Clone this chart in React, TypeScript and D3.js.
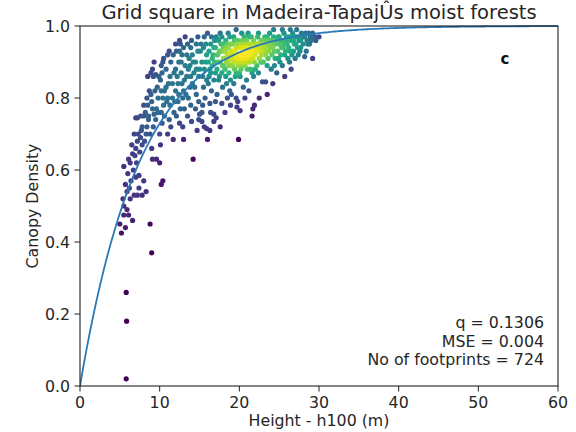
import React from "react";
import * as d3 from "d3";

// Footprint measurements: [height h100 (m), canopy density]
const lowOutliers: [number, number][] = [
  [5.8, 0.02], [5.85, 0.18], [5.8, 0.26], [9.0, 0.37], [8.8, 0.45],
];

const stemPoints: [number, number][] = [
  [5.2, 0.425], [5.7, 0.44], [5.0, 0.45], [6.6, 0.46], [5.5, 0.475], [6.1, 0.475],
  [5.5, 0.5], [5.9, 0.49], [6.8, 0.53], [7.2, 0.53], [7.8, 0.53], [8.3, 0.54],
  [5.7, 0.56], [7.4, 0.55], [8.0, 0.57], [6.2, 0.55], [10.2, 0.56], [6.4, 0.57],
  [7.0, 0.58], [7.4, 0.585], [10.4, 0.57], [5.5, 0.61], [6.1, 0.63], [6.3, 0.62],
  [9.1, 0.63], [9.6, 0.63], [10.0, 0.62], [6.6, 0.645], [7.0, 0.66], [7.2, 0.68],
  [6.5, 0.67], [7.6, 0.69], [8.3, 0.7], [9.0, 0.66], [14.2, 0.63],
  [5.4, 0.52], [5.9, 0.54], [6.3, 0.52], [6.0, 0.59], [6.7, 0.6], [7.1, 0.62],
  [6.9, 0.64], [7.5, 0.65], [7.8, 0.67], [8.1, 0.68], [7.3, 0.7], [7.7, 0.71],
  [8.4, 0.72], [8.8, 0.7], [9.2, 0.72], [8.6, 0.74], [9.5, 0.74], [9.8, 0.76],
  [10.0, 0.7], [10.6, 0.75], [9.1, 0.77], [10.1, 0.67], [11.0, 0.7], [6.8, 0.7],
];

const midPoints: [number, number][] = [
  [7.2, 0.745], [8.0, 0.75], [8.6, 0.75], [9.3, 0.755], [10.2, 0.76], [7.8, 0.72],
  [11.7, 0.685], [13.0, 0.685], [12.5, 0.73], [14.0, 0.735], [15.3, 0.735], [16.0, 0.685],
  [19.9, 0.685], [15.6, 0.72], [15.9, 0.715], [16.8, 0.735], [15.0, 0.755], [15.3, 0.76],
  [16.8, 0.755], [17.1, 0.745], [19.7, 0.775], [20.1, 0.765], [21.6, 0.75], [21.7, 0.77],
  [17.8, 0.785], [16.3, 0.785], [23.5, 0.81], [21.2, 0.82], [21.9, 0.78], [19.6, 0.8],
  [19.8, 0.79], [22.9, 0.845], [23.3, 0.845], [25.4, 0.89], [28.2, 0.915], [29.2, 0.91],
  [8.4, 0.8], [8.0, 0.78], [8.5, 0.78], [7.0, 0.745], [7.6, 0.75], [8.9, 0.87],
  [9.5, 0.865], [9.9, 0.86], [9.3, 0.9], [11.4, 0.9], [11.7, 0.92], [12.5, 0.96],
  [9.0, 0.79], [9.8, 0.8], [10.5, 0.78], [11.0, 0.8], [10.3, 0.73], [11.2, 0.74],
  [11.8, 0.76], [12.3, 0.79], [13.1, 0.77], [13.6, 0.8], [12.0, 0.82], [11.1, 0.84],
  [10.6, 0.82], [12.8, 0.84], [13.4, 0.86], [14.1, 0.84], [14.6, 0.81], [14.9, 0.79],
  [15.7, 0.8], [16.5, 0.82], [17.2, 0.81], [17.9, 0.83], [18.5, 0.8], [18.8, 0.82],
  [19.3, 0.84], [20.5, 0.83], [20.9, 0.85], [21.8, 0.86], [22.4, 0.87], [24.0, 0.88],
  [24.7, 0.87], [26.3, 0.9], [27.0, 0.91], [27.7, 0.94], [28.8, 0.95], [29.5, 0.97],
  [26.8, 0.93], [8.7, 0.82], [9.4, 0.82], [10.1, 0.85], [9.2, 0.86], [9.1, 0.88],
  [10.9, 0.79], [8.2, 0.76], [9.6, 0.77], [8.9, 0.81], [10.4, 0.8], [11.3, 0.78],
  [11.6, 0.8], [10.8, 0.83], [11.9, 0.79], [12.4, 0.81], [12.6, 0.77], [13.3, 0.81],
  [13.8, 0.83], [12.9, 0.8], [11.4, 0.72], [12.1, 0.75], [12.9, 0.72], [13.5, 0.75],
  [14.5, 0.77], [13.9, 0.78], [14.7, 0.71], [16.3, 0.71], [17.6, 0.72], [18.2, 0.76],
  [17.0, 0.79], [18.9, 0.78], [20.7, 0.8], [22.5, 0.8], [24.2, 0.84], [25.7, 0.86],
  [26.5, 0.88], [19.0, 0.81], [15.4, 0.78], [16.4, 0.76], [14.9, 0.74], [9.7, 0.83],
  [10.3, 0.87], [10.4, 0.9], [11.2, 0.93], [12.0, 0.95], [10.2, 0.82], [8.5, 0.86],
];

const upperLeftPoints: [number, number][] = [
  [10.5, 0.91], [10.8, 0.88], [11.3, 0.86], [12.0, 0.88], [12.4, 0.9], [12.8, 0.92],
  [13.2, 0.89], [13.7, 0.91], [13.9, 0.94], [14.3, 0.87], [14.5, 0.9], [14.8, 0.93],
  [15.2, 0.95], [13.5, 0.95], [14.0, 0.96], [15.0, 0.88], [15.4, 0.86], [15.8, 0.9],
  [16.1, 0.84], [16.4, 0.87], [16.7, 0.92], [12.2, 0.86], [11.6, 0.84], [13.0, 0.82],
  [14.4, 0.83], [15.5, 0.83], [15.9, 0.85], [16.8, 0.85], [17.5, 0.86], [12.1, 0.93],
  [12.6, 0.95], [10.2, 0.89], [11.0, 0.92], [15.6, 0.97], [16.0, 0.98],
  [12.3, 0.84], [12.7, 0.87], [13.1, 0.85], [13.6, 0.88], [13.9, 0.86], [14.2, 0.9],
  [14.6, 0.88], [14.9, 0.86], [15.3, 0.9], [15.6, 0.88], [15.9, 0.92], [13.4, 0.92],
  [13.8, 0.89], [14.1, 0.92], [14.6, 0.95], [15.1, 0.93], [15.5, 0.94], [15.8, 0.95],
  [16.1, 0.9], [16.3, 0.88], [12.7, 0.9], [13.0, 0.94], [11.8, 0.87], [12.5, 0.93],
  [14.8, 0.97], [13.2, 0.97],
];

const corePoints: [number, number][] = [
  [16.2, 0.93], [16.4, 0.95], [16.6, 0.89], [16.9, 0.9], [17.0, 0.94], [17.2, 0.88],
  [17.3, 0.92], [17.4, 0.96], [17.6, 0.9], [17.7, 0.93], [17.8, 0.87], [17.9, 0.95],
  [18.0, 0.91], [16.5, 0.97], [17.1, 0.97], [18.0, 0.89], [17.6, 0.98], [18.6, 0.98],
  [18.1, 0.93], [18.2, 0.88], [18.3, 0.96], [18.4, 0.9], [18.5, 0.92], [18.6, 0.94],
  [18.7, 0.87], [18.8, 0.91], [18.9, 0.95], [19.0, 0.89], [19.1, 0.93], [19.2, 0.91],
  [19.3, 0.97], [19.4, 0.88], [19.5, 0.92], [19.6, 0.94], [19.7, 0.9], [19.8, 0.96],
  [19.9, 0.92], [18.3, 0.86], [18.9, 0.85], [19.5, 0.86], [18.6, 0.9], [19.2, 0.89],
  [19.8, 0.91], [19.0, 0.93], [18.4, 0.94], [19.6, 0.99],
  [16.2, 0.86], [16.6, 0.91], [16.8, 0.94], [17.0, 0.87], [17.3, 0.9], [17.5, 0.93],
  [17.7, 0.95], [17.9, 0.89], [18.1, 0.91], [18.3, 0.93], [18.5, 0.95], [18.7, 0.89],
  [18.9, 0.92], [19.1, 0.95], [19.3, 0.9], [19.5, 0.93], [19.7, 0.95], [19.9, 0.89],
  [16.9, 0.96], [17.8, 0.97], [18.8, 0.97], [19.4, 0.96], [17.4, 0.85], [18.4, 0.84],
  [19.6, 0.87], [18.0, 0.94], [19.2, 0.92], [18.6, 0.92], [17.2, 0.92],
  [20.0, 0.9], [20.1, 0.94], [20.2, 0.88], [20.3, 0.92], [20.4, 0.96], [20.5, 0.91],
  [20.6, 0.93], [20.7, 0.89], [20.8, 0.95], [20.9, 0.92], [21.0, 0.94], [21.1, 0.9],
  [21.2, 0.97], [21.3, 0.92], [21.4, 0.88], [21.5, 0.95], [21.6, 0.93], [21.7, 0.91],
  [21.8, 0.96], [21.9, 0.94], [20.2, 0.91], [20.6, 0.92], [21.0, 0.91], [21.4, 0.93],
  [20.4, 0.94], [20.8, 0.9], [21.2, 0.93], [20.0, 0.87], [21.6, 0.87], [20.3, 0.98],
  [21.1, 0.98],
  [20.1, 0.92], [20.3, 0.95], [20.5, 0.89], [20.7, 0.94], [20.9, 0.96], [21.1, 0.92],
  [21.3, 0.95], [21.5, 0.91], [21.7, 0.94], [21.9, 0.92], [22.1, 0.93], [22.3, 0.95],
  [22.5, 0.94], [22.7, 0.96], [22.9, 0.93], [23.1, 0.96], [23.3, 0.94], [23.5, 0.97],
  [23.7, 0.95], [23.9, 0.96], [20.6, 0.97], [21.5, 0.97], [22.4, 0.98], [20.1, 0.86],
  [21.0, 0.88], [22.0, 0.88], [22.8, 0.9], [23.6, 0.91], [21.9, 0.9], [20.4, 0.9],
  [21.3, 0.9],
  [22.0, 0.92], [22.1, 0.95], [22.2, 0.89], [22.3, 0.97], [22.4, 0.93], [22.5, 0.91],
  [22.6, 0.95], [22.7, 0.94], [22.8, 0.92], [22.9, 0.96], [23.0, 0.9], [23.1, 0.94],
  [23.2, 0.97], [23.3, 0.92], [23.4, 0.95], [23.5, 0.89], [23.6, 0.96], [23.7, 0.93],
  [23.8, 0.98], [23.9, 0.94], [22.3, 0.93], [22.7, 0.9], [23.0, 0.95], [23.4, 0.93],
];

const rightBandPoints: [number, number][] = [
  [24.0, 0.96], [24.1, 0.92], [24.2, 0.94], [24.3, 0.97], [24.5, 0.91], [24.6, 0.95],
  [24.8, 0.93], [24.9, 0.97], [25.0, 0.95], [25.2, 0.92], [25.3, 0.96], [25.5, 0.94],
  [25.6, 0.98], [25.8, 0.93], [25.9, 0.96], [24.4, 0.89], [25.1, 0.9],
  [26.0, 0.95], [26.2, 0.97], [26.4, 0.93], [26.5, 0.96], [26.7, 0.98], [26.9, 0.95],
  [27.1, 0.97], [27.3, 0.94], [27.5, 0.96], [27.8, 0.98], [28.0, 0.95], [28.2, 0.97],
  [28.5, 0.96], [28.7, 0.98], [29.0, 0.96], [29.3, 0.97], [27.4, 0.92], [28.4, 0.93],
  [26.1, 0.91],
  [24.1, 0.95], [24.4, 0.93], [24.7, 0.96], [25.0, 0.97], [25.3, 0.94], [25.6, 0.95],
  [25.9, 0.97], [26.2, 0.94], [26.5, 0.97], [26.8, 0.96], [27.1, 0.95], [27.4, 0.97],
  [27.7, 0.96], [28.0, 0.97], [28.3, 0.98], [28.6, 0.95], [28.9, 0.97], [29.2, 0.98],
  [29.6, 0.96], [30.0, 0.97], [24.9, 0.91], [25.7, 0.92], [26.6, 0.92], [27.6, 0.93],
  [24.3, 0.99], [25.4, 0.99], [26.4, 0.99], [27.2, 0.99],
];

// Fitted model: density = 1 - exp(-q * h)
const q = 0.1306;
const mse = 0.004;
const footprintCount = 724;
const xTicks = [0, 10, 20, 30, 40, 50, 60];
const yTicks = [0, 0.2, 0.4, 0.6, 0.8, 1.0];

const W = 576;
const H = 432;
const M = { left: 80, right: 18, top: 26, bottom: 46 };
const FONT = "DejaVu Sans, sans-serif";
const FS = 15.8;

export default function App() {
  const x = d3.scaleLinear().domain([0, 60]).range([M.left, W - M.right]);
  const y = d3.scaleLinear().domain([0, 1]).range([H - M.bottom, M.top]);

  const points = [
    ...lowOutliers, ...stemPoints, ...midPoints, ...upperLeftPoints, ...corePoints, ...rightBandPoints,
  ];

  // Gaussian kernel density at each point, evaluated in pixel space
  const bw = 13;
  const px = points.map(([h, d]) => [x(h), y(d)]);
  const dens = px.map(([a, b]) =>
    d3.sum(px, ([c, e]) => Math.exp(-((a - c) ** 2 + (b - e) ** 2) / (2 * bw * bw)))
  );
  const color = d3.scaleSequential(d3.interpolateViridis).domain([d3.min(dens)!, d3.max(dens)!]);
  const order = d3.range(points.length).sort((i, j) => dens[i] - dens[j]);

  const curveData = d3.range(0, 60.01, 0.25).map((h) => [h, 1 - Math.exp(-q * h)] as [number, number]);
  const line = d3.line<[number, number]>().x((d) => x(d[0])).y((d) => y(d[1]));

  const x0 = M.left, x1 = W - M.right, y0 = H - M.bottom, y1 = M.top;
  const textColor = "#262626";

  return (
    <svg width={W} height={H} style={{ position: "absolute", left: 0, top: 0 }} fontFamily={FONT}>
      <rect width={W} height={H} fill="#fff" />
      <defs>
        <clipPath id="plotClip">
          <rect x={x0} y={y1 - 2} width={x1 - x0} height={y0 - y1 + 2} />
        </clipPath>
      </defs>
      <g>
        {order.map((i) => (
          <circle key={i} cx={px[i][0]} cy={px[i][1]} r={2.6} fill={color(dens[i])} />
        ))}
      </g>
      <path d={line(curveData)!} fill="none" stroke="#2a7ab8" strokeWidth={1.8} clipPath="url(#plotClip)" />
      <rect x={x0} y={y1} width={x1 - x0} height={y0 - y1} fill="none" stroke="#222" strokeWidth={1.1} />
      {xTicks.map((t) => (
        <g key={"x" + t}>
          <line x1={x(t)} x2={x(t)} y1={y0} y2={y0 + 5.5} stroke="#222" />
          <text x={x(t)} y={y0 + 22} textAnchor="middle" fontSize={FS} fill={textColor}>{t}</text>
        </g>
      ))}
      {yTicks.map((t) => (
        <g key={"y" + t}>
          <line x1={x0 - 5.5} x2={x0} y1={y(t)} y2={y(t)} stroke="#222" />
          <text x={x0 - 10} y={y(t) + 5.7} textAnchor="end" fontSize={FS} fill={textColor}>{t.toFixed(1)}</text>
        </g>
      ))}
      <text x={(x0 + x1) / 2} y={19} textAnchor="middle" fontSize={19.5} fill={textColor}>
        Grid square in Madeira-TapajÛs moist forests
      </text>
      <text x={(x0 + x1) / 2} y={426} textAnchor="middle" fontSize={FS} fill={textColor}>Height - h100 (m)</text>
      <text transform={`translate(38,${(y0 + y1) / 2}) rotate(-90)`} textAnchor="middle" fontSize={FS} fill={textColor}>
        Canopy Density
      </text>
      <text x={505} y={64} textAnchor="middle" fontSize={15} fontWeight="bold" fill="#111">c</text>
      <g fontSize={FS} fill={textColor} textAnchor="end">
        <text x={544} y={328}>q = {q.toFixed(4)}</text>
        <text x={544} y={346.5}>MSE = {mse.toFixed(3)}</text>
        <text x={544} y={365}>No of footprints = {footprintCount}</text>
      </g>
    </svg>
  );
}
